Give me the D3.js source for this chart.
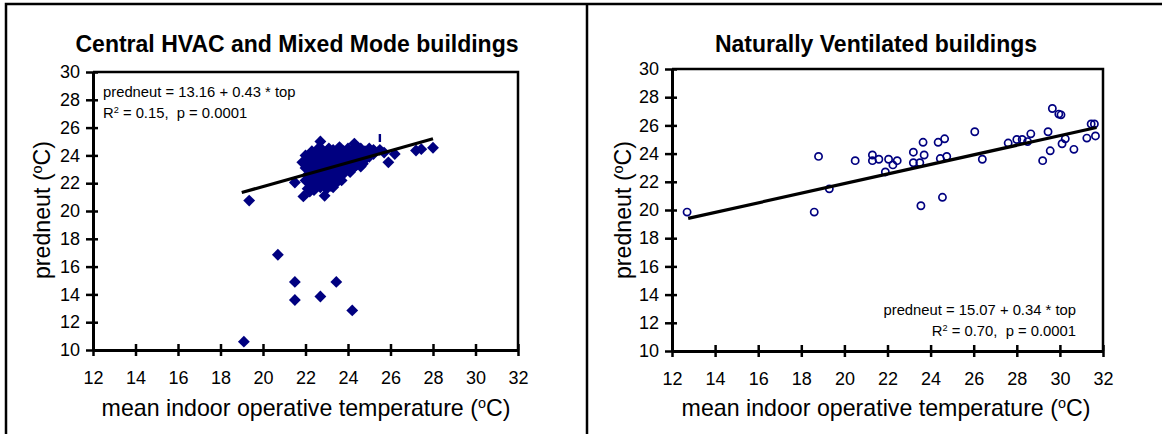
<!DOCTYPE html>
<html lang="en">
<head>
<meta charset="UTF-8" />
<title>predneut vs mean indoor operative temperature</title>
<script src="https://d3js.org/d3.v7.min.js"></script>
<style>
  html, body { margin: 0; padding: 0; background: #fff; }
  svg { display: block; font-family: "Liberation Sans", Arial, sans-serif; }
  .border { fill: none; stroke: #000; stroke-width: 2.5px; }
  .frame { fill: none; stroke: #000; stroke-width: 2.5px; }
  .axis path { stroke: #000; stroke-width: 3px; }
  .axis line { stroke: #000; stroke-width: 2.5px; }
  .axis text { font-size: 18px; fill: #000; font-family: "Liberation Sans", Arial, sans-serif; }
  .title { font-size: 23px; font-weight: bold; }
  .label { font-size: 23.2px; }
  .note { font-size: 14.8px; white-space: pre; }
  .fit { stroke: #000; stroke-width: 3.2px; }
  .diamond { fill: #000080; }
  .ring { fill: none; stroke: #000080; stroke-width: 1.7px; }
</style>
</head>
<body>
<svg id="chart" width="1162" height="434"></svg>
<script>
  // axis ticks (both panels share them)
  const xTicks = [12, 14, 16, 18, 20, 22, 24, 26, 28, 30, 32];
  const yTicks = [10, 12, 14, 16, 18, 20, 22, 24, 26, 28, 30];

  // Central HVAC and Mixed Mode buildings: [top, predneut]
  const hvacPoints = [
    [19.1, 10.6], [19.35, 20.75], [20.7, 16.85], [21.5, 14.9], [21.5, 13.6],
    [22.7, 13.85], [23.45, 14.9], [24.2, 12.85],
    [21.5, 22.05], [21.85, 23.5], [21.9, 21.05], [22.9, 21.1], [22.7, 25.0],
    [24.3, 24.85], [25.0, 24.5], [25.9, 23.5], [26.2, 24.1], [27.2, 24.35],
    [27.45, 24.45], [28.0, 24.55], [25.5, 24.4], [25.7, 24.2], [24.8, 23.7], [24.7, 23.4],
    [22.0, 22.2], [22.0, 23.1], [22.0, 24.0],
    [22.1, 21.6], [22.1, 22.6], [22.1, 23.6],
    [22.2, 21.4], [22.2, 22.0], [22.2, 22.9], [22.2, 23.8], [22.3, 24.3],
    [22.3, 21.8], [22.3, 22.4], [22.3, 23.3], [22.35, 24.1],
    [22.4, 21.5], [22.4, 22.2], [22.4, 23.0], [22.4, 23.7],
    [22.5, 21.9], [22.5, 22.7], [22.5, 23.4], [22.5, 24.2],
    [22.6, 22.3], [22.6, 23.1], [22.6, 23.9], [22.6, 24.5],
    [22.7, 21.7], [22.7, 22.5], [22.7, 23.3], [22.7, 24.0],
    [22.8, 22.0], [22.8, 22.9], [22.8, 23.6], [22.8, 24.4],
    [22.9, 22.4], [22.9, 23.2], [22.9, 23.9],
    [23.0, 21.6], [23.0, 22.7], [23.0, 23.5], [23.0, 24.3],
    [23.1, 22.2], [23.1, 23.0], [23.1, 23.8], [23.1, 24.5],
    [23.2, 21.8], [23.2, 22.6], [23.2, 23.4], [23.2, 24.1],
    [23.3, 21.7], [23.3, 22.3], [23.3, 23.1], [23.3, 23.7], [23.3, 24.4],
    [23.4, 22.8], [23.4, 23.5], [23.4, 24.2],
    [23.5, 22.1], [23.5, 23.0], [23.5, 23.8],
    [23.6, 22.5], [23.6, 23.3], [23.6, 24.0], [23.6, 24.6],
    [23.7, 22.2], [23.7, 23.1], [23.7, 23.9],
    [23.8, 22.7], [23.8, 23.5], [23.8, 24.3],
    [23.9, 22.9], [23.9, 23.6], [23.9, 24.1],
    [24.0, 23.2], [24.0, 23.8], [24.0, 24.5],
    [24.1, 22.8], [24.1, 23.5], [24.1, 24.2],
    [24.2, 23.0], [24.2, 23.7], [24.2, 24.4],
    [24.4, 23.3], [24.4, 23.9], [24.4, 24.6],
    [24.5, 23.6], [24.5, 24.2],
    [24.6, 23.2], [24.6, 24.0], [24.6, 24.5],
    [24.8, 23.8], [24.8, 24.3],
    [25.0, 23.9], [25.0, 24.3],
    [25.2, 24.1], [25.2, 24.4]
  ];
  // the lone clipped marker above the cluster
  const hvacStray = [[25.5, 25.25]];

  // Naturally Ventilated buildings: [top, predneut]
  const nvPoints = [
    [12.7, 19.85], [18.6, 19.85], [18.8, 23.8], [19.3, 21.5], [20.5, 23.5],
    [21.3, 23.9], [21.3, 23.5], [21.6, 23.6], [21.9, 22.7], [22.05, 23.6],
    [22.25, 23.2], [22.45, 23.5], [23.2, 24.1], [23.2, 23.35], [23.5, 23.35],
    [23.55, 20.3], [23.65, 24.8], [23.7, 23.9], [24.35, 24.8], [24.45, 23.65],
    [24.55, 20.9], [24.65, 25.05], [24.75, 23.8], [26.05, 25.55], [26.4, 23.6],
    [27.6, 24.75], [28.0, 25.0], [28.25, 25.0], [28.5, 24.85], [28.65, 25.4],
    [29.2, 23.5], [29.45, 25.55], [29.55, 24.2], [29.65, 27.2], [29.95, 26.8],
    [30.05, 26.75], [30.1, 24.7], [30.25, 25.05], [30.65, 24.3], [31.25, 25.1],
    [31.45, 26.1], [31.6, 26.1], [31.65, 25.25]
  ];

  // regression lines: intercept, slope, x range
  const hvacFit = [13.16, 0.43, 19.0, 28.0];
  const nvFit = [15.07, 0.34, 12.75, 31.7];

  const svg = d3.select('#chart');

  // outer box and panel divider
  svg.append('path').attr('class', 'border').attr('d', 'M6,434V4H1162M587,4V434');

  function superTail(sel, base, sup, tail) {
    sel.append('tspan').text(base);
    sel.append('tspan').attr('font-size', '62%').attr('dy', '-0.55em').text(sup);
    sel.append('tspan').attr('dy', '0.34em').text(tail);
  }

  function drawPanel(p) {
    const x = d3.scaleLinear().domain([12, 32]).range([p.left, p.right]);
    const y = d3.scaleLinear().domain([10, 30]).range([p.bottom, p.top]);

    svg.append('path').attr('class', 'frame')
      .attr('d', `M${p.left},${p.top}H${p.right}V${p.bottom}`);

    const gx = svg.append('g').attr('class', 'axis')
      .attr('transform', `translate(0,${p.bottom})`)
      .call(d3.axisBottom(x).tickValues(xTicks).tickSize(6).tickSizeOuter(0).tickPadding(15));
    gx.selectAll('.tick line').attr('y1', -6);

    const gy = svg.append('g').attr('class', 'axis')
      .attr('transform', `translate(${p.left},0)`)
      .call(d3.axisLeft(y).tickValues(yTicks).tickSize(7).tickSizeOuter(0).tickPadding(6));
    gy.selectAll('.tick line').attr('x1', 5);
    svg.selectAll('.axis .domain').attr('fill', 'none');

    svg.append('text').attr('class', 'title').attr('text-anchor', 'middle')
      .attr('x', p.titleX).attr('y', 52).text(p.title);

    superTail(svg.append('text').attr('class', 'label').attr('text-anchor', 'middle')
      .attr('x', p.xLabelX).attr('y', 416),
      'mean indoor operative temperature (', 'o', 'C)');

    superTail(svg.append('text').attr('class', 'label').attr('text-anchor', 'middle')
      .attr('transform', `translate(${p.yLabelX},210) rotate(-90)`),
      'predneut (', 'o', 'C)');

    svg.append('text').attr('class', 'note')
      .attr('text-anchor', p.noteAnchor).attr('x', p.noteX).attr('y', p.noteY)
      .text(p.note[0]);
    superTail(svg.append('text').attr('class', 'note')
      .attr('text-anchor', p.noteAnchor).attr('x', p.noteX).attr('y', p.noteY + 21.5),
      'R', '2', p.note[1]);

    // points layer sits under the fit line
    const marks = svg.append('g');
    const [a, b, x0, x1] = p.fit;
    svg.append('line').attr('class', 'fit')
      .attr('x1', x(x0)).attr('y1', y(a + b * x0))
      .attr('x2', x(x1)).attr('y2', y(a + b * x1));

    return { x, y, marks };
  }

  const left = drawPanel({
    left: 93, right: 518, top: 72, bottom: 350, titleX: 297, xLabelX: 306, yLabelX: 50,
    title: 'Central HVAC and Mixed Mode buildings', fit: hvacFit,
    note: ['predneut = 13.16 + 0.43 * top', ' = 0.15,  p = 0.0001'],
    noteAnchor: 'start', noteX: 103, noteY: 96.5
  });

  const diamond = d3.symbol(d3.symbolSquare, 70);
  left.marks.selectAll('path').data(hvacPoints).join('path')
    .attr('class', 'diamond')
    .attr('transform', d => `translate(${left.x(d[0])},${left.y(d[1])}) rotate(45)`)
    .attr('d', diamond);
  left.marks.selectAll('rect').data(hvacStray).join('rect')
    .attr('class', 'diamond')
    .attr('x', d => left.x(d[0]) - 1.2).attr('y', d => left.y(d[1]) - 4)
    .attr('width', 2.4).attr('height', 8);

  const right = drawPanel({
    left: 672, right: 1103, top: 69, bottom: 351, titleX: 876, xLabelX: 886, yLabelX: 631,
    title: 'Naturally Ventilated buildings', fit: nvFit,
    note: ['predneut = 15.07 + 0.34 * top', ' = 0.70,  p = 0.0001'],
    noteAnchor: 'end', noteX: 1076, noteY: 314.5
  });

  right.marks.selectAll('circle').data(nvPoints).join('circle')
    .attr('class', 'ring')
    .attr('cx', d => right.x(d[0])).attr('cy', d => right.y(d[1])).attr('r', 3.6);
</script>
</body>
</html>
